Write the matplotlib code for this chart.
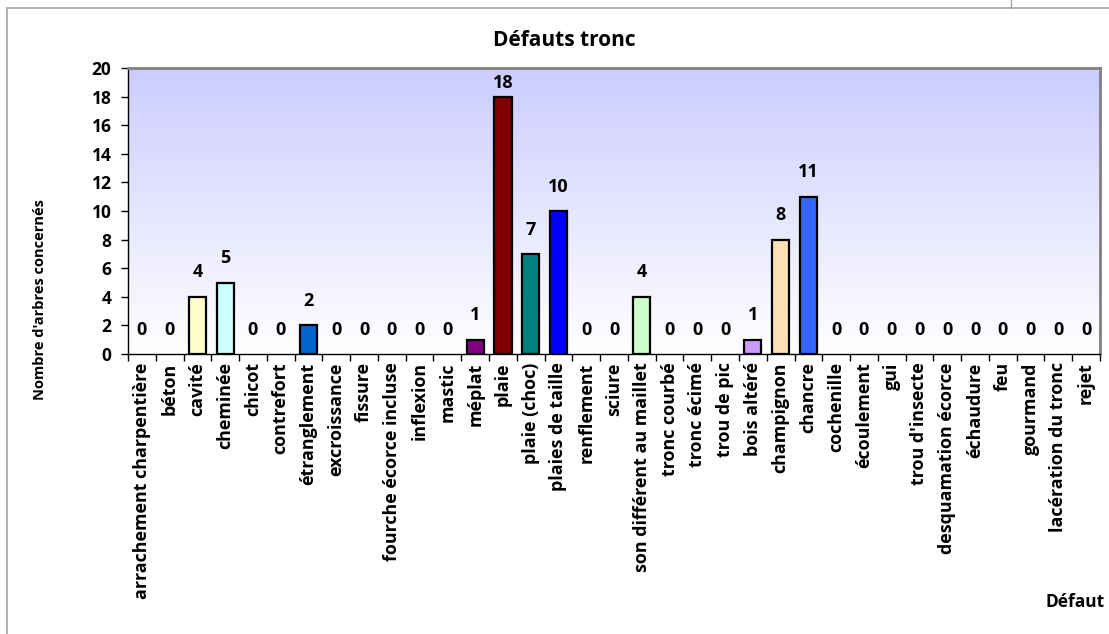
import matplotlib.pyplot as plt
import numpy as np
from matplotlib.lines import Line2D

plt.rcParams['font.family'] = ['Open Sans', 'DejaVu Sans']
plt.rcParams['font.weight'] = 'bold'

defauts = [
    "arrachement charpentière", "béton", "cavité", "cheminée", "chicot",
    "contrefort", "étranglement", "excroissance", "fissure",
    "fourche écorce incluse", "inflexion", "mastic", "méplat", "plaie",
    "plaie (choc)", "plaies de taille", "renflement", "sciure",
    "son différent au maillet", "tronc courbé", "tronc écimé", "trou de pic",
    "bois altéré", "champignon", "chancre", "cochenille", "écoulement", "gui",
    "trou d'insecte", "desquamation écorce", "échaudure", "feu", "gourmand",
    "lacération du tronc", "rejet",
]
nb_arbres = [0, 0, 4, 5, 0, 0, 2, 0, 0, 0, 0, 0, 1, 18, 7, 10, 0, 0, 4,
             0, 0, 0, 1, 8, 11, 0, 0, 0, 0, 0, 0, 0, 0, 0, 0]
couleurs = {
    "cavité": "#FFFFCC", "cheminée": "#CCFFFF", "étranglement": "#0066CC",
    "méplat": "#800080", "plaie": "#800000", "plaie (choc)": "#008080",
    "plaies de taille": "#0000FF", "son différent au maillet": "#CCFFCC",
    "bois altéré": "#CC99FF", "champignon": "#FCDFB4", "chancre": "#3366FF",
}

fig = plt.figure(figsize=(11.09, 6.34), dpi=100)
fig.patch.set_facecolor('white')

# thin grey frame lines of the sheet behind the chart
fig.add_artist(Line2D([7 / 1109, 1], [1 - 8 / 634] * 2, color='#A6A6A6', lw=1.2))
fig.add_artist(Line2D([7 / 1109] * 2, [0, 1 - 8 / 634], color='#A6A6A6', lw=1.2))
fig.add_artist(Line2D([1011 / 1109] * 2, [1 - 8 / 634, 1], color='#A6A6A6', lw=1.0))

ax = fig.add_axes([128 / 1109, 1 - 354 / 634, 972 / 1109, 286 / 634])

n = len(defauts)
x = np.arange(n)
ax.set_xlim(-0.5, n - 0.5)
ax.set_ylim(0, 20)

# vertical gradient: lavender at the top fading to white at the bottom
grad = np.linspace(0, 1, 256).reshape(-1, 1, 1)
top = np.array([0xCC, 0xCC, 0xFF]) / 255
img = top * (1 - grad) + grad
ax.imshow(img, extent=(-0.5, n - 0.5, 0, 20), origin='upper', aspect='auto', zorder=0)

cols = [couleurs.get(d, 'white') for d in defauts]
lws = [1.6 if v > 0 else 0 for v in nb_arbres]
ax.bar(x, nb_arbres, width=0.62, color=cols, edgecolor='black', linewidth=lws, zorder=2)

for xi, v in zip(x, nb_arbres):
    ax.text(xi, min(v + 1.7, 18.95), str(v), ha='center', va='center',
            fontsize=13, fontweight='bold', zorder=3)

ax.set_yticks(range(0, 21, 2))
ax.set_xticks(x)
ax.set_xticklabels(defauts, rotation=90, fontsize=12.9, fontweight='bold')
ax.set_xticks(np.arange(-0.5, n, 1), minor=True)
ax.tick_params(axis='x', which='major', length=0, pad=6)
ax.tick_params(axis='x', which='minor', length=5, width=1)
ax.tick_params(axis='y', length=5, width=1, labelsize=12.5, pad=7)
for lab in ax.get_yticklabels():
    lab.set_fontweight('bold')

for s in ['top', 'right']:
    ax.spines[s].set_color('#808080')
    ax.spines[s].set_linewidth(2)
for s in ['left', 'bottom']:
    ax.spines[s].set_color('black')
    ax.spines[s].set_linewidth(1)

fig.text(564 / 1109, 1 - 40 / 634, 'Défauts tronc', ha='center', va='center',
         fontsize=15, fontweight='bold')
fig.text(40 / 1109, 1 - 300 / 634, "Nombre d'arbres concernés", rotation=90,
         ha='center', va='center', fontsize=10.5, fontweight='bold')
fig.text(1105 / 1109, 1 - 602 / 634, 'Défaut', ha='right', va='center',
         fontsize=12.5, fontweight='bold')

fig.savefig('out.png', dpi=100)
